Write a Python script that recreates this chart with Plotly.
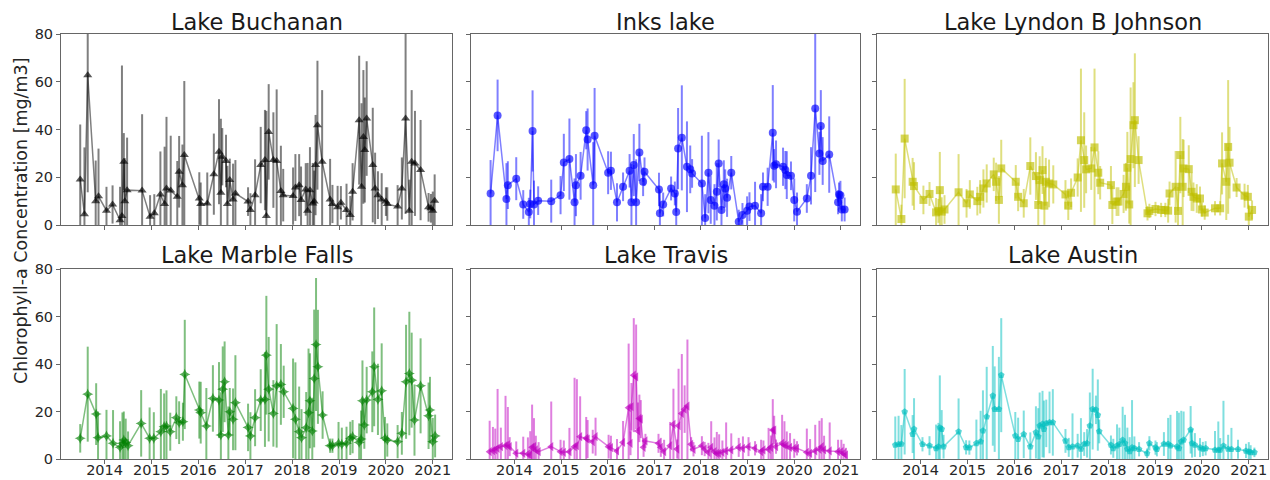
import plotly.graph_objects as go

# ---------------- data (decimal year, chlorophyll-a mean, error half-width) ----------------
buchanan_year = [2013.48, 2013.57, 2013.64, 2013.81, 2013.87, 2014.04, 2014.17, 2014.33, 2014.37, 2014.41,
                 2014.43, 2014.48, 2014.80, 2014.97, 2015.06, 2015.19, 2015.28, 2015.32, 2015.41, 2015.55,
                 2015.59, 2015.66, 2015.70, 2016.02, 2016.05, 2016.19, 2016.33, 2016.44, 2016.48, 2016.51,
                 2016.59, 2016.62, 2016.67, 2016.74, 2016.79, 2017.06, 2017.11, 2017.21, 2017.33, 2017.42,
                 2017.45, 2017.50, 2017.60, 2017.67, 2017.76, 2017.81, 2018.02, 2018.07, 2018.15, 2018.19,
                 2018.29, 2018.33, 2018.38, 2018.44, 2018.47, 2018.50, 2018.54, 2018.64, 2018.81, 2018.86,
                 2018.97, 2019.04, 2019.16, 2019.24, 2019.29, 2019.43, 2019.48, 2019.52, 2019.55, 2019.59,
                 2019.72, 2019.77, 2019.83, 2019.91, 2020.00, 2020.03, 2020.25, 2020.34, 2020.42, 2020.50,
                 2020.55, 2020.62, 2020.74, 2020.91, 2020.96, 2021.00, 2021.04]
buchanan_chl = [19.1, 4.5, 62.7, 10.0, 12.0, 6.0, 8.6, 2.0, 3.8, 26.5,
                10.0, 14.6, 14.4, 3.5, 4.9, 12.8, 8.8, 15.3, 14.4, 11.8,
                22.3, 16.7, 29.3, 11.1, 8.8, 9.0, 21.3, 30.7, 13.5, 28.6,
                26.8, 8.8, 18.8, 10.7, 13.2, 9.8, 6.3, 12.5, 25.1, 27.2,
                3.8, 39.0, 27.2, 26.8, 14.2, 12.5, 12.1, 15.7, 16.7, 10.5,
                14.9, 6.0, 14.6, 9.0, 9.8, 25.1, 41.8, 26.5, 10.7, 8.8,
                7.4, 9.3, 6.3, 4.2, 13.9, 43.9, 16.0, 36.9, 31.4, 44.6,
                25.1, 15.3, 12.5, 10.7, 9.8, 8.8, 7.7, 15.3, 44.6, 6.0,
                26.5, 25.8, 23.0, 7.4, 7.0, 6.0, 10.2]
buchanan_err = [23, 28, 49, 17, 20, 10, 8, 14, 63, 12,
                18, 22, 32, 9, 8, 18, 24, 30, 23, 15,
                15, 17, 31, 11, 9, 13, 17, 22, 31, 12,
                11, 16, 9, 15, 14, 6, 7, 15, 16, 21,
                44, 20, 20, 30, 19, 11, 12, 14, 13, 14,
                11, 20, 18, 17, 13, 21, 27, 30, 17, 8,
                9, 7, 11, 8, 12, 27, 35, 28, 22, 24,
                24, 15, 10, 11, 6, 7, 9, 13, 40, 13,
                30, 22, 21, 6, 6, 8, 11]

inks_year = [2013.49, 2013.64, 2013.83, 2013.86, 2014.04, 2014.19, 2014.31, 2014.34, 2014.39, 2014.42,
             2014.51, 2014.79, 2014.99, 2015.06, 2015.18, 2015.29, 2015.32, 2015.42, 2015.54, 2015.57,
             2015.69, 2015.72, 2016.01, 2016.07, 2016.20, 2016.33, 2016.47, 2016.51, 2016.56, 2016.61,
             2016.68, 2016.76, 2016.79, 2017.10, 2017.12, 2017.19, 2017.36, 2017.44, 2017.47, 2017.51,
             2017.59, 2017.70, 2017.77, 2017.81, 2018.02, 2018.09, 2018.16, 2018.21, 2018.29, 2018.34,
             2018.38, 2018.44, 2018.49, 2018.52, 2018.56, 2018.65, 2018.81, 2018.89, 2018.99, 2019.04,
             2019.16, 2019.29, 2019.33, 2019.43, 2019.54, 2019.57, 2019.61, 2019.76, 2019.81, 2019.84,
             2019.93, 2020.00, 2020.06, 2020.27, 2020.36, 2020.45, 2020.54, 2020.57, 2020.61, 2020.75,
             2020.94, 2020.96, 2020.99, 2021.02, 2021.08]
inks_chl = [13.2, 45.9, 10.9, 16.7, 19.4, 8.6, 5.4, 8.8, 39.4, 8.6,
            10.2, 10.0, 12.5, 26.2, 27.6, 9.5, 16.7, 20.6, 39.7, 35.8,
            16.7, 37.4, 21.9, 22.7, 9.5, 16.0, 22.7, 9.5, 25.1, 9.5,
            30.4, 18.1, 22.3, 14.9, 4.9, 8.6, 15.3, 13.2, 5.4, 32.0,
            36.5, 24.4, 23.3, 21.6, 17.4, 2.9, 21.9, 10.5, 8.1, 13.9,
            25.8, 6.3, 17.1, 15.3, 11.4, 21.9, 1.4, 4.2, 6.0, 7.7,
            8.1, 4.9, 16.0, 16.0, 38.6, 24.8, 25.4, 24.4, 23.0, 20.9,
            20.6, 10.5, 5.6, 11.1, 20.6, 48.8, 30.0, 41.5, 26.8, 29.5,
            9.5, 12.8, 12.5, 6.5, 6.5]
inks_err = [14, 15, 15, 10, 9, 6, 6, 6, 17, 10,
            6, 9, 8, 12, 17, 10, 13, 10, 8, 13,
            18, 20, 9, 8, 8, 6, 7, 16, 13, 18,
            12, 6, 6, 7, 10, 5, 5, 5, 8, 17,
            22, 19, 10, 6, 20, 10, 17, 10, 9, 12,
            10, 10, 10, 8, 8, 7, 5, 5, 6, 6,
            10, 8, 6, 8, 20, 7, 10, 8, 8, 10,
            6, 9, 8, 6, 12, 35, 9, 15, 10, 16,
            5, 5, 6, 5, 5]

lbj_year = [2013.47, 2013.59, 2013.66, 2013.83, 2013.86, 2014.06, 2014.19, 2014.33, 2014.38, 2014.41,
            2014.45, 2014.51, 2014.81, 2014.98, 2015.05, 2015.21, 2015.27, 2015.34, 2015.41, 2015.56,
            2015.61, 2015.67, 2015.72, 2016.03, 2016.08, 2016.20, 2016.34, 2016.46, 2016.51, 2016.54,
            2016.60, 2016.64, 2016.67, 2016.74, 2016.83, 2017.09, 2017.15, 2017.21, 2017.35, 2017.42,
            2017.49, 2017.53, 2017.64, 2017.71, 2017.79, 2017.83, 2018.06, 2018.09, 2018.18, 2018.22,
            2018.33, 2018.38, 2018.41, 2018.45, 2018.48, 2018.54, 2018.57, 2018.65, 2018.84, 2018.88,
            2019.01, 2019.13, 2019.22, 2019.28, 2019.31, 2019.44, 2019.49, 2019.54, 2019.59, 2019.61,
            2019.72, 2019.78, 2019.82, 2019.89, 2019.96, 2020.00, 2020.06, 2020.28, 2020.39, 2020.43,
            2020.52, 2020.56, 2020.59, 2020.74, 2020.91, 2020.98, 2021.00, 2021.07]
lbj_chl = [14.9, 2.5, 36.2, 18.1, 16.3, 10.5, 13.0, 5.3, 5.9, 14.6,
           5.6, 6.5, 13.7, 9.1, 12.8, 10.0, 11.8, 15.3, 17.4, 21.2,
           18.1, 10.5, 23.7, 18.1, 11.8, 9.1, 24.7, 20.5, 8.4, 18.8,
           23.0, 8.1, 18.1, 17.4, 17.0, 12.8, 8.1, 13.5, 19.9, 35.5,
           27.2, 23.3, 23.7, 32.5, 21.9, 17.7, 16.7, 8.4, 9.8, 9.8,
           13.0, 16.0, 24.0, 8.6, 27.6, 41.8, 43.9, 27.2, 4.9, 5.9,
           6.7, 6.3, 6.3, 6.0, 13.2, 16.0, 5.9, 29.3, 16.0, 23.7,
           23.4, 13.9, 11.8, 11.1, 11.1, 6.5, 5.2, 7.0, 7.0, 25.8,
           18.1, 32.7, 26.1, 15.7, 12.3, 11.8, 3.5, 6.3]
lbj_err = [15, 6, 25, 10, 10, 6, 5, 6, 5, 16,
           6, 6, 16, 6, 6, 6, 7, 8, 8, 7,
           8, 10, 12, 7, 6, 6, 12, 10, 10, 10,
           10, 8, 10, 10, 8, 6, 6, 6, 8, 30,
           20, 10, 9, 33, 9, 7, 8, 8, 6, 6,
           8, 10, 15, 8, 30, 18, 28, 10, 3, 3,
           3, 3, 3, 5, 5, 15, 10, 16, 20, 12,
           10, 8, 6, 6, 5, 3, 3, 3, 3, 13,
           16, 28, 15, 4, 5, 5, 5, 4]

marble_year = [2013.48, 2013.64, 2013.82, 2013.86, 2014.04, 2014.18, 2014.33, 2014.38, 2014.41, 2014.45,
               2014.50, 2014.78, 2014.96, 2015.05, 2015.20, 2015.27, 2015.32, 2015.40, 2015.53, 2015.59,
               2015.67, 2015.71, 2016.02, 2016.05, 2016.17, 2016.31, 2016.44, 2016.48, 2016.52, 2016.56,
               2016.64, 2016.67, 2016.74, 2016.79, 2017.06, 2017.11, 2017.21, 2017.33, 2017.42, 2017.45,
               2017.50, 2017.60, 2017.67, 2017.76, 2017.82, 2018.02, 2018.07, 2018.15, 2018.20, 2018.30,
               2018.35, 2018.38, 2018.43, 2018.47, 2018.51, 2018.55, 2018.65, 2018.81, 2018.86, 2018.99,
               2019.06, 2019.16, 2019.24, 2019.29, 2019.43, 2019.47, 2019.50, 2019.54, 2019.59, 2019.71,
               2019.75, 2019.83, 2019.91, 2019.98, 2020.03, 2020.25, 2020.34, 2020.43, 2020.50, 2020.55,
               2020.61, 2020.74, 2020.91, 2020.94, 2021.00, 2021.05]
marble_chl = [8.7, 27.3, 18.9, 9.0, 9.7, 6.6, 4.9, 6.6, 8.0, 7.0,
              5.6, 15.0, 8.7, 8.7, 11.5, 13.6, 13.9, 11.5, 17.4, 15.3,
              15.7, 35.6, 20.6, 19.5, 13.9, 25.5, 24.8, 10.1, 29.4, 32.5,
              10.1, 19.9, 16.7, 23.7, 13.3, 9.7, 17.4, 24.8, 25.1, 43.7,
              29.4, 19.2, 30.8, 31.4, 28.3, 21.3, 16.7, 11.5, 9.0, 13.2,
              19.5, 24.5, 11.8, 33.9, 48.2, 38.8, 18.5, 5.6, 5.6, 6.6,
              6.2, 6.6, 8.7, 9.4, 7.0, 8.4, 24.5, 14.3, 24.8, 28.3,
              38.8, 25.1, 28.7, 8.7, 8.0, 7.3, 10.8, 32.5, 36.0, 33.2,
              16.4, 30.8, 18.2, 20.6, 7.3, 9.7]
marble_err = [6, 20, 13, 11, 11, 14, 11, 13, 12, 10,
              6, 14, 13, 11, 18, 14, 15, 8, 9, 9,
              8, 23, 12, 13, 16, 14, 16, 18, 18, 17,
              12, 10, 13, 20, 10, 10, 12, 13, 20, 25,
              22, 14, 26, 17, 11, 21, 24, 19, 12, 15,
              27, 20, 14, 29, 28, 24, 10, 3, 3, 9,
              7, 7, 7, 7, 8, 12, 17, 10, 14, 17,
              25, 15, 20, 9, 7, 7, 9, 24, 26, 20,
              15, 20, 14, 14, 10, 9]

travis_year = [2013.47, 2013.54, 2013.59, 2013.64, 2013.71, 2013.81, 2013.86, 2013.90, 2014.04, 2014.19,
               2014.29, 2014.34, 2014.38, 2014.42, 2014.46, 2014.52, 2014.79, 2014.99, 2015.06, 2015.18,
               2015.29, 2015.34, 2015.41, 2015.54, 2015.57, 2015.68, 2015.74, 2016.02, 2016.07, 2016.20,
               2016.33, 2016.45, 2016.49, 2016.51, 2016.56, 2016.61, 2016.65, 2016.68, 2016.71, 2016.77,
               2016.81, 2017.09, 2017.14, 2017.21, 2017.34, 2017.41, 2017.49, 2017.52, 2017.59, 2017.65,
               2017.71, 2017.79, 2017.84, 2018.02, 2018.08, 2018.16, 2018.22, 2018.29, 2018.34, 2018.39,
               2018.46, 2018.54, 2018.65, 2018.81, 2018.90, 2019.02, 2019.16, 2019.29, 2019.34, 2019.45,
               2019.50, 2019.54, 2019.57, 2019.61, 2019.74, 2019.79, 2019.84, 2019.91, 2020.00, 2020.06,
               2020.27, 2020.34, 2020.45, 2020.54, 2020.59, 2020.64, 2020.76, 2020.94, 2021.01, 2021.06,
               2021.11]
travis_chl = [3.1, 3.5, 3.8, 4.5, 5.2, 5.6, 5.9, 5.2, 2.4, 2.4,
              2.1, 1.7, 4.9, 5.2, 3.8, 3.1, 5.2, 3.1, 2.8, 3.1,
              5.2, 5.6, 9.4, 8.7, 8.4, 7.3, 9.4, 5.2, 4.8, 3.4,
              7.0, 21.6, 6.6, 22.0, 35.3, 34.6, 11.8, 17.1, 16.8, 4.9,
              7.6, 6.6, 4.9, 3.1, 5.6, 14.6, 4.2, 14.0, 19.2, 21.0,
              22.3, 6.2, 4.1, 5.6, 4.2, 2.8, 4.9, 3.1, 2.4, 2.4,
              2.8, 3.4, 3.8, 4.9, 4.5, 5.2, 4.5, 3.1, 3.8, 4.1,
              4.9, 12.2, 12.2, 5.2, 6.6, 5.9, 5.6, 4.9, 4.5, 4.5,
              2.8, 2.4, 3.4, 4.1, 5.2, 3.8, 3.4, 3.1, 3.1, 2.4,
              1.7]
travis_err = [13, 10, 9, 25, 8, 21, 16, 4, 5, 7,
              7, 10, 18, 12, 6, 4, 19, 5, 5, 10,
              29, 28, 17, 9, 8, 5, 8, 5, 5, 5,
              9, 27, 5, 10, 24, 22, 12, 10, 8, 4,
              3, 4, 4, 5, 10, 15, 4, 24, 25, 10,
              28, 3, 3, 4, 3, 4, 11, 6, 9, 8,
              5, 12, 7, 4, 5, 4, 3, 5, 4, 9,
              5, 13, 6, 3, 12, 10, 6, 6, 4, 3,
              10, 6, 11, 12, 12, 6, 12, 5, 5, 4,
              3]

austin_year = [2013.46, 2013.53, 2013.59, 2013.66, 2013.83, 2013.86, 2014.04, 2014.19, 2014.33, 2014.38,
               2014.41, 2014.45, 2014.49, 2014.81, 2014.97, 2015.04, 2015.19, 2015.28, 2015.33, 2015.41,
               2015.54, 2015.58, 2015.67, 2015.72, 2016.02, 2016.08, 2016.20, 2016.34, 2016.46, 2016.51,
               2016.54, 2016.60, 2016.63, 2016.68, 2016.75, 2016.82, 2017.09, 2017.16, 2017.24, 2017.35,
               2017.42, 2017.49, 2017.55, 2017.61, 2017.67, 2017.74, 2017.78, 2017.81, 2018.06, 2018.11,
               2018.19, 2018.24, 2018.31, 2018.36, 2018.41, 2018.46, 2018.51, 2018.56, 2018.66, 2018.83,
               2018.88, 2019.01, 2019.04, 2019.19, 2019.28, 2019.33, 2019.47, 2019.51, 2019.56, 2019.61,
               2019.76, 2019.79, 2019.85, 2019.96, 2020.02, 2020.08, 2020.28, 2020.35, 2020.39, 2020.46,
               2020.56, 2020.63, 2020.77, 2020.94, 2021.00, 2021.04, 2021.12]
austin_chl = [5.9, 6.2, 6.3, 19.9, 10.5, 12.6, 6.2, 5.6, 4.5, 5.2,
              13.2, 12.6, 5.2, 11.5, 4.9, 4.8, 6.6, 7.3, 11.9, 17.8,
              26.6, 21.0, 21.0, 35.3, 9.8, 8.4, 10.4, 5.2, 11.2, 9.4,
              14.0, 14.7, 12.6, 15.0, 15.4, 15.4, 7.6, 4.9, 5.2, 5.6,
              4.2, 6.3, 6.6, 14.0, 21.0, 20.7, 18.5, 11.6, 5.9, 4.5,
              5.6, 6.2, 8.0, 6.6, 4.2, 3.2, 4.8, 4.5, 4.1, 2.4,
              6.6, 4.8, 4.1, 6.3, 6.3, 5.6, 5.2, 4.5, 7.3, 8.0,
              12.3, 6.6, 5.9, 4.8, 4.2, 4.5, 3.8, 3.8, 3.8, 5.5,
              4.2, 4.1, 4.1, 3.4, 3.1, 2.8, 2.8]
austin_err = [12, 12, 8, 18, 8, 13, 3, 4, 10, 10,
              22, 8, 5, 14, 3, 3, 10, 13, 17, 21,
              21, 18, 22, 24, 10, 9, 10, 6, 11, 12,
              14, 14, 12, 10, 13, 14, 5, 4, 14, 5,
              13, 5, 6, 14, 17, 6, 15, 5, 4, 4,
              9, 7, 14, 12, 9, 6, 20, 5, 3, 2,
              3, 3, 3, 5, 11, 13, 15, 15, 13, 12,
              10, 6, 5, 4, 3, 3, 8, 12, 5, 19,
              6, 9, 4, 3, 4, 3, 2]

lake_names = ["Lake Buchanan", "Inks lake", "Lake Lyndon B Johnson",
              "Lake Marble Falls", "Lake Travis", "Lake Austin"]
year_ticks = [2014, 2015, 2016, 2017, 2018, 2019, 2020, 2021]
chl_ticks = [0, 20, 40, 60, 80]
y_title = "Chlorophyll-a Concentration [mg/m3]"

series = [
    (buchanan_year, buchanan_chl, buchanan_err, (0, 0, 0), "triangle-up", 8),
    (inks_year, inks_chl, inks_err, (0, 0, 255), "circle", 8),
    (lbj_year, lbj_chl, lbj_err, (191, 191, 0), "square", 8),
    (marble_year, marble_chl, marble_err, (0, 128, 0), "star-diamond", 8),
    (travis_year, travis_chl, travis_err, (191, 0, 191), "triangle-left", 8),
    (austin_year, austin_chl, austin_err, (0, 191, 191), "pentagon", 7),
]

# ---------------- layout geometry (pixels -> paper fractions) ----------------
W, H = 1270, 480
col_px = [(61, 452), (471, 860), (877, 1268)]
row_px = [(34, 225), (269, 459)]
title_y_px = [22, 255]

FONT = "DejaVu Sans"
fig = go.Figure()
layout = dict(
    width=W, height=H,
    margin=dict(l=0, r=0, t=0, b=0, autoexpand=False),
    paper_bgcolor="white", plot_bgcolor="white",
    showlegend=False,
    font=dict(family=FONT, color="#262626"),
)
annotations = []

for i, (xs, ys, es, rgb, sym, msize) in enumerate(series):
    r, c = divmod(i, 3)
    n = i + 1
    xa = "x" if n == 1 else f"x{n}"
    ya = "y" if n == 1 else f"y{n}"

    def rgba(a, rgb=rgb):
        return f"rgba({rgb[0]},{rgb[1]},{rgb[2]},{a})"

    fig.add_trace(go.Scatter(
        x=xs, y=ys, xaxis=xa, yaxis=ya, mode="lines+markers",
        line=dict(color=rgba(0.5), width=1.5),
        marker=dict(symbol=sym, size=msize, color=rgba(0.65), line=dict(width=0)),
        error_y=dict(type="data", array=es, symmetric=True, visible=True,
                     color=rgba(0.5), thickness=2, width=0),
        cliponaxis=True,
    ))
    x0, x1 = col_px[c]
    t0, t1 = row_px[r]
    axis_common = dict(showline=True, linecolor="#666666", linewidth=1, mirror=True,
                       ticks="outside", ticklen=4, tickcolor="#666666", showgrid=False,
                       zeroline=False, automargin=False,
                       tickfont=dict(family=FONT, size=14.5, color="#262626"))
    layout["xaxis" if n == 1 else f"xaxis{n}"] = dict(
        domain=[x0 / W, x1 / W], anchor=ya, range=[2013.07, 2021.41],
        tickmode="array", tickvals=year_ticks,
        ticktext=[str(v) for v in year_ticks] if r == 1 else ["" for _ in year_ticks],
        ticklabelstandoff=-6,
        **axis_common)
    layout["yaxis" if n == 1 else f"yaxis{n}"] = dict(
        domain=[1 - t1 / H, 1 - t0 / H], anchor=xa, range=[0, 80],
        tickmode="array", tickvals=chl_ticks,
        ticktext=[str(v) for v in chl_ticks] if c == 0 else ["" for _ in chl_ticks],
        **axis_common)
    annotations.append(dict(
        text=lake_names[i], xref="paper", yref="paper",
        x=(x0 + x1) / 2 / W, y=1 - title_y_px[r] / H, xanchor="center", yanchor="middle",
        showarrow=False, font=dict(family=FONT, size=22.5, color="#1a1a1a")))

annotations.append(dict(
    text=y_title, xref="paper", yref="paper", x=21 / W, y=1 - 221 / H,
    xanchor="center", yanchor="middle", textangle=-90, showarrow=False,
    font=dict(family=FONT, size=17.5, color="#262626")))
layout["annotations"] = annotations
fig.update_layout(**layout)
fig.write_html(
    "out.html",
    config={"displayModeBar": False},
    post_script="document.documentElement.style.margin='0';document.body.style.margin='0';"
                "document.body.style.overflow='hidden';",
)
